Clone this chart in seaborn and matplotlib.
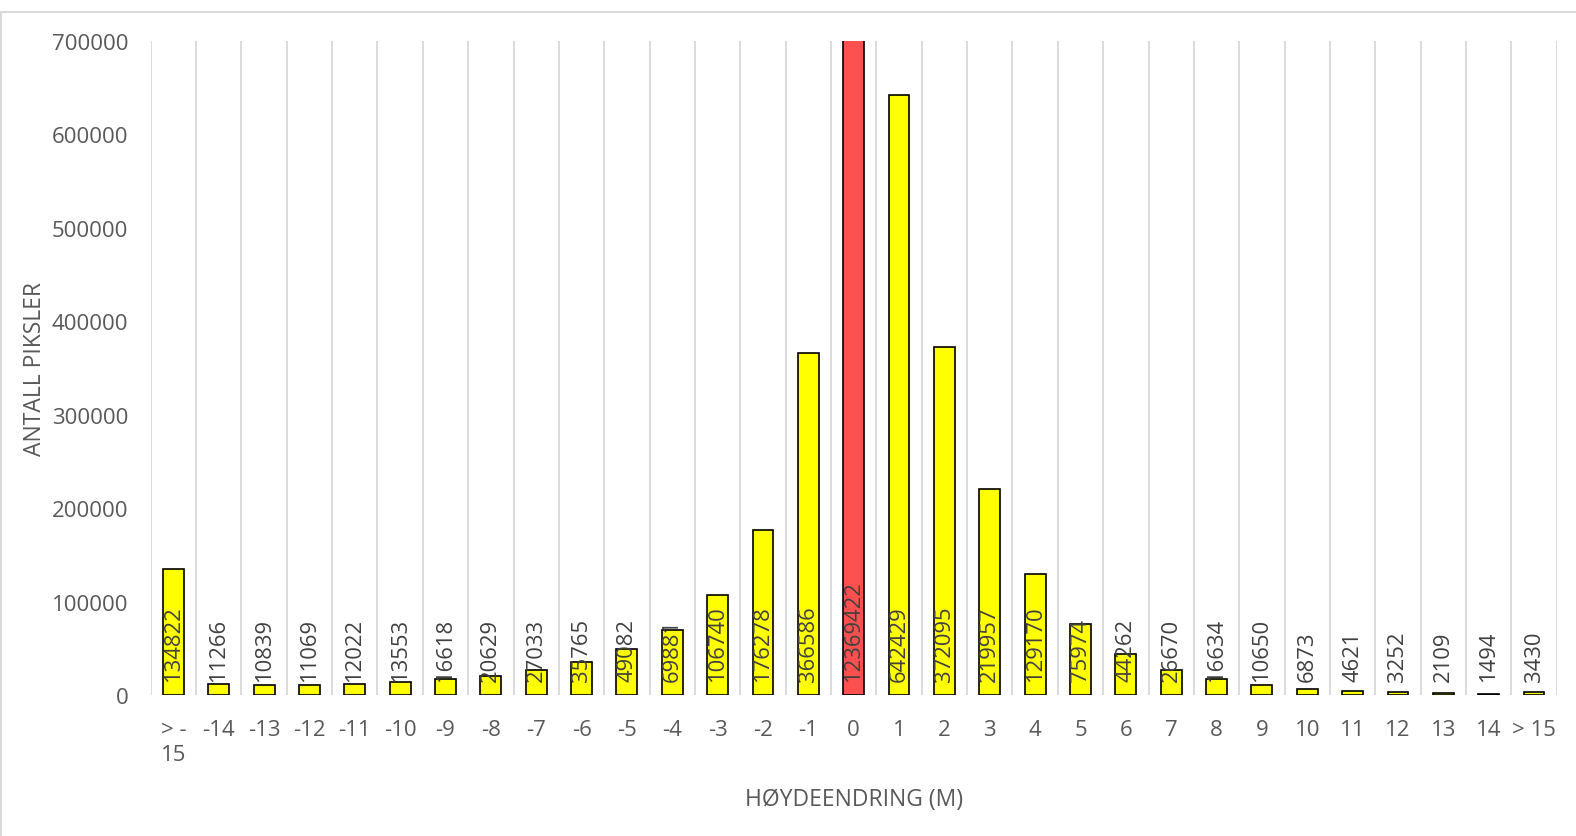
import numpy as np
import pandas as pd
import matplotlib
matplotlib.use("Agg")
import matplotlib.pyplot as plt
from matplotlib.lines import Line2D
import seaborn as sns

# Height-change classes (m) and number of pixels in each class
classes = ["> -\n15", "-14", "-13", "-12", "-11", "-10", "-9", "-8", "-7", "-6",
           "-5", "-4", "-3", "-2", "-1", "0", "1", "2", "3", "4", "5", "6", "7",
           "8", "9", "10", "11", "12", "13", "14", "> 15"]
pixels = [134822, 11266, 10839, 11069, 12022, 13553, 16618, 20629, 27033, 35765,
          49082, 69881, 106740, 176278, 366586, 12369422, 642429, 372095, 219957,
          129170, 75974, 44262, 26670, 16634, 10650, 6873, 4621, 3252, 2109, 1494,
          3430]
y_ticks = [0, 100000, 200000, 300000, 400000, 500000, 600000, 700000]

YELLOW = "#FFFF00"
RED = "#FF5050"
TEXT = "#595959"
GRID = "#D9D9D9"

sns.set_theme(style="white")
plt.rcParams["font.family"] = ["Open Sans", "DejaVu Sans"]

df = pd.DataFrame({"klasse": classes, "antall": pixels})
colors = [RED if c == "0" else YELLOW for c in classes]

fig = plt.figure(figsize=(15.76, 8.37), dpi=100)
ax = fig.add_axes([150.7 / 1576, 1 - 696 / 837, 1406 / 1576, 654 / 837])

# category separators
ax.vlines(np.arange(-0.5, len(classes)), 0, y_ticks[-1], colors=GRID,
          linewidth=1.3, zorder=0)

sns.barplot(data=df, x="klasse", y="antall", hue="klasse", palette=colors,
            legend=False, width=0.46, edgecolor="black", linewidth=1.2,
            saturation=1, ax=ax, zorder=2)

ax.set_xlim(-0.5, len(classes) - 0.5)
ax.set_ylim(0, y_ticks[-1])
ax.set_yticks(y_ticks)
ax.set_yticklabels([str(v) for v in y_ticks])
ax.tick_params(axis="x", length=0, pad=17, labelsize=16, labelcolor=TEXT)
ax.tick_params(axis="y", length=0, pad=16, labelsize=16, labelcolor=TEXT)
for lbl in ax.get_xticklabels():
    lbl.set_linespacing(1.3)
for s in ax.spines.values():
    s.set_visible(False)
ax.grid(False)

# value labels, rotated, anchored near the bar base
for i, v in enumerate(pixels):
    ax.annotate(str(v), xy=(i, 0), xytext=(0, 10), textcoords="offset points",
                rotation=90, ha="center", va="bottom", fontsize=15.8,
                color="#404040", zorder=3, annotation_clip=False)

ax.set_xlabel("HØYDEENDRING (M)", fontsize=16.5, color=TEXT)
ax.set_ylabel("ANTALL PIKSLER", fontsize=16.5, color=TEXT)
ax.xaxis.set_label_coords(0.5, -0.14)
ax.yaxis.set_label_coords(-0.074, 0.5)

# chart area frame
fig.add_artist(Line2D([0, 1], [1 - 12.5 / 837] * 2, color=GRID, linewidth=1.5,
                      transform=fig.transFigure))
fig.add_artist(Line2D([0.5 / 1576] * 2, [0, 1 - 12.5 / 837], color=GRID,
                      linewidth=1.5, transform=fig.transFigure))

fig.savefig("out.png", dpi=100, facecolor="white")
